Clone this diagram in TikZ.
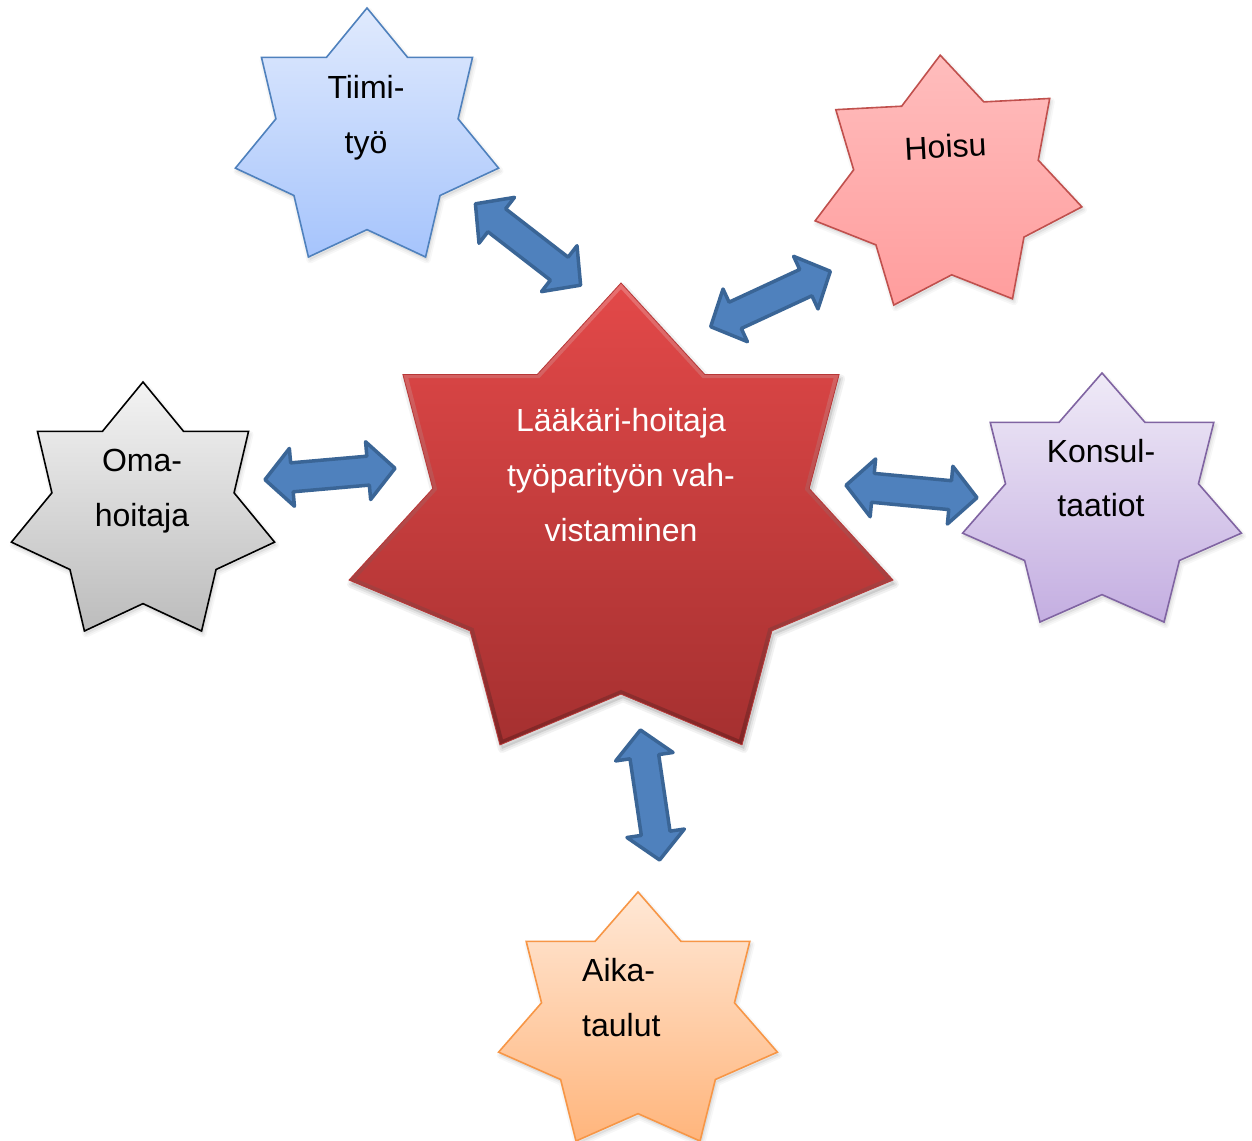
\documentclass[tikz,border=0pt]{standalone}
\usepackage{fontspec}
\setmainfont{Liberation Sans}
\usetikzlibrary{calc}

% palette
\definecolor{arrowfill}{HTML}{4F81BD}
\definecolor{arrowline}{HTML}{3A6596}
\definecolor{coreTop}{HTML}{E34949}
\definecolor{coreBot}{HTML}{A53030}
\definecolor{coreLine}{HTML}{B73838}
\definecolor{blueTop}{HTML}{E0EAFD}
\definecolor{blueBot}{HTML}{A6C4FC}
\definecolor{blueLine}{HTML}{4F81BD}
\definecolor{redTop}{HTML}{FFBDBD}
\definecolor{redBot}{HTML}{FF9D9D}
\definecolor{redLine}{HTML}{C0504D}
\definecolor{greyTop}{HTML}{F3F3F3}
\definecolor{greyBot}{HTML}{BCBCBC}
\definecolor{greyLine}{HTML}{000000}
\definecolor{lilacTop}{HTML}{EFEAF7}
\definecolor{lilacBot}{HTML}{C4AEE1}
\definecolor{lilacLine}{HTML}{8064A2}
\definecolor{orangeTop}{HTML}{FFE8D6}
\definecolor{orangeBot}{HTML}{FFB57C}
\definecolor{orangeLine}{HTML}{F79646}

\tikzset{
  blockarrow/.style={fill=arrowfill, draw=arrowline, line width=3.5pt, line join=round},
  lbl/.style={font=\fontsize{32}{38}\selectfont, anchor=base, inner sep=0pt, text=black},
  corelbl/.style={lbl, text=white},
}

% seven-pointed star: outer radii #1,#2 and inner radii #3,#4 (pt)
\newcommand\starpts[4]{(90:#1pt and #2pt) -- (115.714:#3pt and #4pt)
  -- (141.429:#1pt and #2pt) -- (167.143:#3pt and #4pt)
  -- (192.857:#1pt and #2pt) -- (218.571:#3pt and #4pt)
  -- (244.286:#1pt and #2pt) -- (270:#3pt and #4pt)
  -- (295.714:#1pt and #2pt) -- (321.429:#3pt and #4pt)
  -- (347.143:#1pt and #2pt) -- (12.857:#3pt and #4pt)
  -- (38.571:#1pt and #2pt) -- (64.286:#3pt and #4pt) -- cycle}

% star with soft shadow and vertical gradient
% #1 centre, #2 rotation, #3-#6 radii, #7 top colour, #8 bottom colour, #9 outline colour
\newcommand\heptastar[9]{%
  \begin{scope}[shift={#1}, rotate=#2]
    \begin{scope}[shift={(1.5,-3)}]
      \fill[black, opacity=0.06] \starpts{#3}{#4}{#5}{#6};
      \draw[black, opacity=0.03, line width=7pt, line join=round] \starpts{#3}{#4}{#5}{#6};
      \draw[black, opacity=0.04, line width=3.5pt, line join=round] \starpts{#3}{#4}{#5}{#6};
    \end{scope}
    \shade[top color=#7, bottom color=#8] \starpts{#3}{#4}{#5}{#6};
    \draw[#9, line width=1.6pt, line join=miter] \starpts{#3}{#4}{#5}{#6};
  \end{scope}}

% double-headed block arrow between two named points
\def\ahl{27pt}\def\ahw{29pt}\def\asw{14.5pt}
\newcommand\dblarrow[2]{%
  \draw[blockarrow] (#1)
    -- ($($(#1)!\ahl!(#2)$)!\ahw!90:(#2)$)
    -- ($($(#1)!\ahl!(#2)$)!\asw!90:(#2)$)
    -- ($($(#2)!\ahl!(#1)$)!\asw!-90:(#1)$)
    -- ($($(#2)!\ahl!(#1)$)!\ahw!-90:(#1)$)
    -- (#2)
    -- ($($(#2)!\ahl!(#1)$)!\ahw!90:(#1)$)
    -- ($($(#2)!\ahl!(#1)$)!\asw!90:(#1)$)
    -- ($($(#1)!\ahl!(#2)$)!\asw!-90:(#2)$)
    -- ($($(#1)!\ahl!(#2)$)!\ahw!-90:(#2)$)
    -- cycle;}

\begin{document}
\begin{tikzpicture}[x=1pt, y=1pt]
  \useasboundingbox (0,0) rectangle (1252,1140);
  \clip (0,0) rectangle (1252,1140);
  \fill[white] (0,0) rectangle (1252,1140);

  % outer stars
  \heptastar{(367,1001)}{0}{135}{131}{93.42}{90.65}{blueTop}{blueBot}{blueLine}
  \heptastar{(947,955)}{3}{137}{130}{94.80}{89.96}{redTop}{redBot}{redLine}
  \heptastar{(143,627)}{0}{135}{131}{93.42}{90.65}{greyTop}{greyBot}{greyLine}
  \heptastar{(1102,636)}{0}{143}{131}{98.96}{90.65}{lilacTop}{lilacBot}{lilacLine}
  \heptastar{(638,117)}{0}{143}{131}{98.96}{90.65}{orangeTop}{orangeBot}{orangeLine}

  % central star with bevelled rim
  \begin{scope}[shift={(621,614)}]
    \begin{scope}[shift={(2,-4)}]
      \fill[black, opacity=0.10] \starpts{279}{243}{193.07}{168.16};
      \draw[black, opacity=0.05, line width=8pt, line join=round] \starpts{279}{243}{193.07}{168.16};
      \draw[black, opacity=0.06, line width=4pt, line join=round] \starpts{279}{243}{193.07}{168.16};
    \end{scope}
    \shade[top color=coreTop, bottom color=coreBot] \starpts{279}{243}{193.07}{168.16};
    \shade[top color=white, bottom color=black, opacity=0.22, even odd rule]
      \starpts{279}{243}{193.07}{168.16} \starpts{272}{237}{188.5}{164};
    \draw[coreLine, line width=0.8pt] \starpts{279}{243}{193.07}{168.16};
  \end{scope}

  % labels
  \node[corelbl] (core1) at (621,708) {Lääkäri-hoitaja};
  \node[corelbl] (core2) at (621,653) {työparityön vah-};
  \node[corelbl] (core3) at (621,598) {vistaminen};

  \node[lbl] (tiimi1) at (366,1041) {Tiimi-};
  \node[lbl] (tiimi2) at (366,986) {työ};

  \node[lbl, rotate=3] (hoisu) at (946,982) {Hoisu};

  \node[lbl] (oma1) at (142,668) {Oma-};
  \node[lbl] (oma2) at (142,613) {hoitaja};

  \node[lbl] (konsul1) at (1101,677) {Konsul-};
  \node[lbl] (konsul2) at (1101,623) {taatiot};

  \node[lbl, anchor=base west] (aika1) at (582,158) {Aika-};
  \node[lbl, anchor=base west] (aika2) at (582,103) {taulut};

  % arrow end points
  \coordinate (tiimiEnd) at (475.4,936.2);
  \coordinate (coreTiimi) at (580.6,854.8);
  \coordinate (coreHoisu) at (710.7,813.3);
  \coordinate (hoisuEnd) at (830.3,868.7);
  \coordinate (omaEnd) at (265,660.3);
  \coordinate (coreOma) at (395,671.7);
  \coordinate (coreKonsul) at (846,654.7);
  \coordinate (konsulEnd) at (977,642.3);
  \coordinate (coreAika) at (640.4,410);
  \coordinate (aikaEnd) at (659.6,280);

  % connectors
  \dblarrow{tiimiEnd}{coreTiimi}
  \dblarrow{coreHoisu}{hoisuEnd}
  \dblarrow{omaEnd}{coreOma}
  \dblarrow{coreKonsul}{konsulEnd}
  \dblarrow{coreAika}{aikaEnd}
\end{tikzpicture}
\end{document}
